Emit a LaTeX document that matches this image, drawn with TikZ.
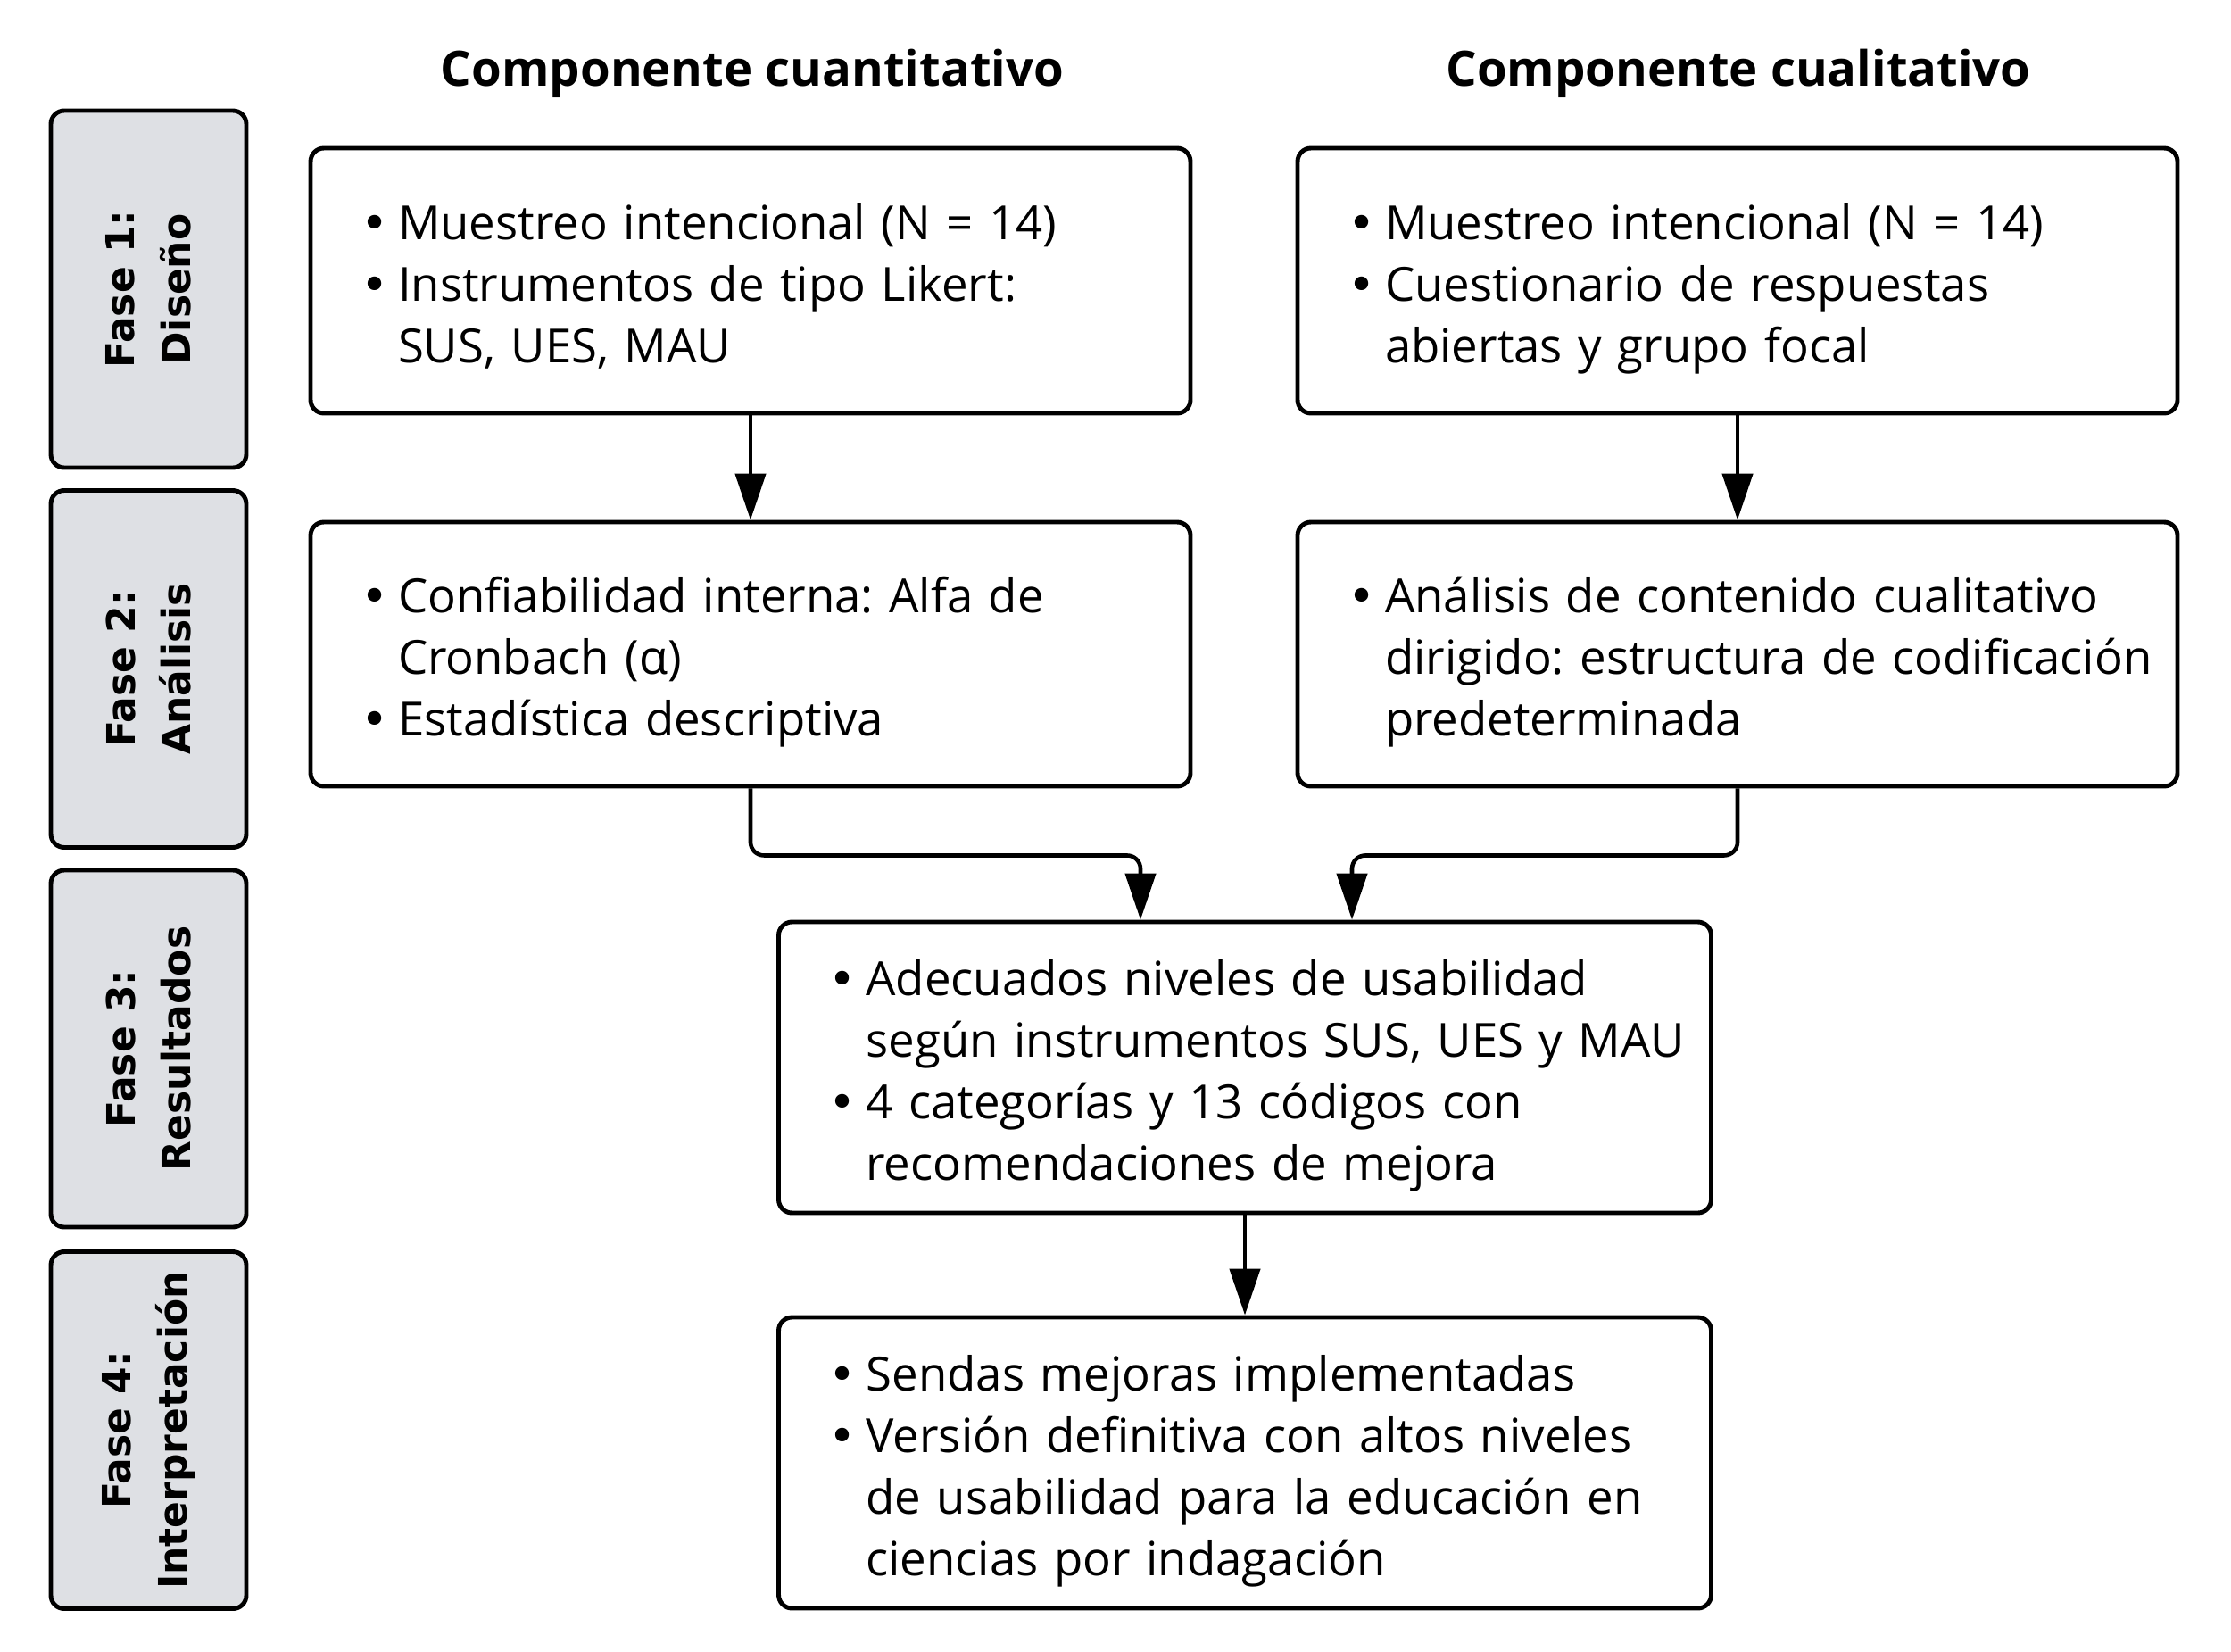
\documentclass[tikz,border=0pt]{standalone}
\usepackage{fontspec}
\setmainfont{Open Sans}
\newfontfamily\sidefont{DejaVu Sans}
\usetikzlibrary{arrows.meta}
\definecolor{faseGray}{HTML}{DEE0E4}
\frenchspacing
\newcommand{\bul}{{\sidefont\textbullet}}
\newcommand{\itms}[1]{\hspace*{0.46cm}\raisebox{0pt}[\dimexpr\height+0.18cm\relax][\depth]{\begin{tabular}{@{}p{0.42cm}@{}l@{}}#1\end{tabular}}}

\begin{document}
\begin{tikzpicture}
		[every node/.style={ },
		box/.style 2 args={draw, line width=1.4pt, rounded corners=1.5mm, align=left, inner xsep=0.1cm, text width=#1, minimum height=#2, font=\fontsize{15}{19.6}\selectfont},
		fase/.style={draw, line width=1.4pt, rounded corners=1.5mm, fill=faseGray, rotate=90, minimum width=4.0cm, minimum height=2.19cm, inner sep=0pt, align=center, font=\sidefont\bfseries\fontsize{12.5}{17.8}\selectfont},
		head/.style={font=\bfseries\fontsize{15.5}{18}\selectfont},
		arrow/.style={draw, line width=1.3pt, rounded corners=1.5mm, -{Triangle[length=5.2mm, width=3.4mm]}}
		]
		\useasboundingbox (0,0) rectangle (25,-18.5);
		\node[head] (HQ) at (8.43,-0.82) {Componente cuantitativo};
		\node[head] (HC) at (19.48,-0.82) {Componente cualitativo};
		\node[fase] (F1) at (1.665,-3.24) {Fase 1:\\Diseño};
		\node[fase] (F2) at (1.665,-7.495) {Fase 2:\\Análisis};
		\node[fase] (F3) at (1.665,-11.75) {Fase 3:\\Resultados};
		\node[fase] (F4) at (1.665,-16.025) {Fase 4:\\Interpretación};
		\node[box={9.66cm}{2.97cm}] (Q1) at (8.41,-3.145)
			{\itms{\bul & Muestreo intencional (N = 14)\\ \bul & Instrumentos de tipo Likert:\\ & SUS, UES, MAU}};
		\node[box={9.66cm}{2.97cm}] (C1) at (19.47,-3.145)
			{\itms{\bul & Muestreo intencional (N = 14)\\ \bul & Cuestionario de respuestas\\ & abiertas y grupo focal}};
		\node[box={9.66cm}{2.96cm}] (Q2) at (8.41,-7.33)
			{\itms{\bul & Confiabilidad interna: Alfa de\\ & Cronbach (α)\\ \bul & Estadística descriptiva}};
		\node[box={9.66cm}{2.96cm}] (C2) at (19.47,-7.33)
			{\itms{\bul & Análisis de contenido cualitativo\\ & dirigido: estructura de codificación\\ & predeterminada}};
		\node[box={10.25cm}{3.26cm}] (R) at (13.95,-11.96)
			{\itms{\bul & Adecuados niveles de usabilidad\\ & según instrumentos SUS, UES y MAU\\ \bul & 4 categorías y 13 códigos con\\ & recomendaciones de mejora}};
		\node[box={10.25cm}{3.26cm}] (I) at (13.95,-16.39)
			{\itms{\bul & Sendas mejoras implementadas\\ \bul & Versión definitiva con altos niveles\\ & de usabilidad para la educación en\\ & ciencias por indagación}};
		\draw[arrow] (Q1) -- (Q2);
		\draw[arrow] (C1) -- (C2);
		\draw[arrow] (Q2.south) -- ++(0,-0.75) -| ([xshift=-1.17cm]R.north);
		\draw[arrow] (C2.south) -- ++(0,-0.75) -| ([xshift=1.2cm]R.north);
		\draw[arrow] (R) -- (I);
	\end{tikzpicture}
\end{document}
